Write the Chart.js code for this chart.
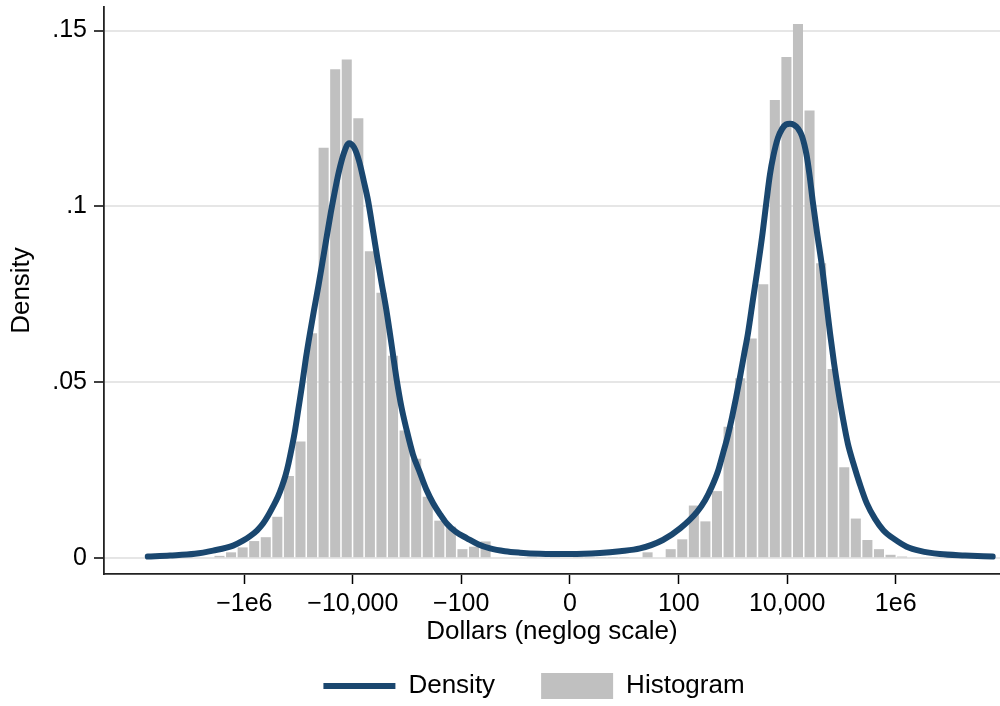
<!DOCTYPE html>
<html>
<head>
<meta charset="utf-8">
<script src="https://cdn.jsdelivr.net/npm/chart.js@4/dist/chart.umd.min.js"></script>
<style>
html, body { margin: 0; padding: 0; background: #ffffff; }
canvas { display: block; }
</style>
</head>
<body>
<canvas id="c" width="1000" height="706"></canvas>
<script>
// ---------- data (x values are in neglog units: sign(x)*ln(1+|x|)) ----------
const xTickDollars = [-1e6, -1e4, -100, 0, 100, 1e4, 1e6];
const xTickLabels  = ['\u22121e6', '\u221210,000', '\u2212100', '0', '100', '10,000', '1e6'];
const yTickValues  = [0, 0.05, 0.1, 0.15];
const yTickLabels  = ['0', '.05', '.1', '.15'];

const histBinCenters = [
  -19.285, -18.794, -18.303, -17.813, -17.322, -16.831, -16.340, -15.850, -15.359,
  -14.868, -14.377, -13.886, -13.396, -12.905, -12.414, -11.923, -11.433, -10.942,
  -10.451, -9.960, -9.470, -8.979, -8.488, -7.998, -7.507, -7.016, -6.525, -6.034,
  -5.543, -5.053, -4.562, -4.071, -3.580, -3.090, -2.599, -2.108, -1.617, -1.126,
  -0.636, -0.145, 0.346, 0.837, 1.327, 1.818, 2.309, 2.800, 3.290, 3.781, 4.272,
  4.763, 5.254, 5.744, 6.235, 6.726, 7.217, 7.707, 8.198, 8.689, 9.180, 9.671,
  10.161, 10.652, 11.143, 11.634, 12.124, 12.615, 13.106, 13.597, 14.087
];
const histDensity = [
  0.0003, 0, 0, 0, 0, 0, 0, 0, 0,
  0.0007, 0.0017, 0.0031, 0.0049, 0.0060, 0.0118, 0.0234, 0.0332, 0.0640,
  0.1167, 0.1390, 0.1418, 0.1251, 0.0873, 0.0755, 0.0576, 0.0363, 0.0283, 0.0175,
  0.0107, 0.0090, 0.0026, 0.0033, 0.0048, 0, 0, 0, 0.0004, 0,
  0.0004, 0, 0.0002, 0.0002, 0.0002, 0.0002, 0.0002, 0, 0.0017, 0, 0.0026,
  0.0054, 0.0150, 0.0105, 0.0191, 0.0374, 0.0512, 0.0625, 0.0779, 0.1303, 0.1425, 0.1519,
  0.1273, 0.0839, 0.0538, 0.0259, 0.0113, 0.0052, 0.0026, 0.0010, 0.0005
];

const kdensX = [
  -17.91, -16.97, -15.91, -15.14, -14.29, -13.87, -13.57, -13.28, -13.02, -12.81,
  -12.60, -12.39, -12.22, -12.07, -11.94, -11.79, -11.66, -11.52, -11.37, -11.20,
  -11.03, -10.86, -10.67, -10.48, -10.31, -10.14, -9.97, -9.80, -9.59, -9.37,
  -9.16, -8.95, -8.74, -8.57, -8.34, -8.17, -7.99, -7.80, -7.64, -7.35,
  -7.15, -6.93, -6.66, -6.36, -6.09, -5.80, -5.51, -5.23, -4.84, -4.37,
  -3.90, -3.39, -2.76, -2.12, -1.27, 0.00, 1.27, 2.12, 2.97, 3.94,
  4.67, 5.39, 5.73, 6.02, 6.28, 6.49, 6.70, 6.87, 7.04, 7.21,
  7.38, 7.55, 7.76, 7.97, 8.17, 8.34, 8.48, 8.63, 8.82, 8.99,
  9.16, 9.33, 9.50, 9.67, 9.84, 10.03, 10.16, 10.29, 10.48, 10.69,
  10.86, 11.03, 11.20, 11.37, 11.59, 11.79, 12.02, 12.30, 12.59, 12.94,
  13.29, 13.79, 14.28, 14.85, 15.69, 16.76, 17.93
];
const kdensY = [
  0.0005, 0.0008, 0.0013, 0.0022, 0.0036, 0.0050, 0.0063, 0.0079, 0.0099, 0.0121,
  0.0147, 0.0175, 0.0204, 0.0235, 0.0270, 0.0318, 0.0365, 0.0425, 0.0490, 0.0570,
  0.0640, 0.0705, 0.0775, 0.0850, 0.0918, 0.0985, 0.1045, 0.1100, 0.1152, 0.1180,
  0.1168, 0.1130, 0.1070, 0.1018, 0.0924, 0.0853, 0.0782, 0.0710, 0.0640, 0.0507,
  0.0430, 0.0365, 0.0295, 0.0242, 0.0195, 0.0156, 0.0125, 0.0099, 0.0075, 0.0057,
  0.0040, 0.0028, 0.0020, 0.0016, 0.0013, 0.0012, 0.0015, 0.0020, 0.0028, 0.0052,
  0.0085, 0.0132, 0.0165, 0.0204, 0.0248, 0.0298, 0.0350, 0.0400, 0.0455, 0.0515,
  0.0578, 0.0640, 0.0735, 0.0829, 0.0925, 0.1018, 0.1090, 0.1145, 0.1195, 0.1220,
  0.1233, 0.1235, 0.1232, 0.1222, 0.1200, 0.1148, 0.1090, 0.1018, 0.0925, 0.0829,
  0.0735, 0.0640, 0.0555, 0.0480, 0.0393, 0.0325, 0.0270, 0.0210, 0.0156, 0.0112,
  0.0080, 0.0053, 0.0033, 0.0021, 0.0012, 0.0008, 0.0005
];

const X_MIN = -19.767, X_MAX = 18.24;
const Y_MIN = -0.00446, Y_MAX = 0.1567;

// ---------- rendering ----------
const NAVY = '#1a476f';
const GRAY = '#c0c0c0';
const neglog = d => Math.sign(d) * Math.log(1 + Math.abs(d));

Chart.defaults.font.family = "'Liberation Sans', Arial, Helvetica, sans-serif";
Chart.defaults.font.size = 25;
Chart.defaults.color = '#000000';

const legendPlacement = {
  id: 'legendPlacement',
  afterLayout(chart) {
    const lg = chart.legend;
    if (!lg) return;
    lg.left += 34;
    lg.right += 34;
    lg.top = 627;
    lg.bottom = 706;
  }
};

new Chart(document.getElementById('c'), {
  type: 'bar',
  data: {
    datasets: [
      {
        type: 'line',
        label: 'Density',
        data: kdensX.map((x, i) => ({ x: x, y: kdensY[i] })),
        borderColor: NAVY,
        backgroundColor: NAVY,
        borderWidth: 6,
        pointRadius: 0,
        pointHoverRadius: 0,
        pointBorderWidth: 6,
        pointStyle: 'line',
        fill: false,
        cubicInterpolationMode: 'monotone',
        borderCapStyle: 'round',
        borderJoinStyle: 'round',
        order: 0
      },
      {
        type: 'bar',
        label: 'Histogram',
        data: histBinCenters.map((x, i) => ({ x: x, y: histDensity[i] })),
        backgroundColor: GRAY,
        borderWidth: 0,
        barPercentage: 0.87,
        categoryPercentage: 1.0,
        pointStyle: 'rect',
        order: 1
      }
    ]
  },
  options: {
    responsive: false,
    animation: false,
    devicePixelRatio: 1,
    layout: { padding: { top: 7, left: 0, right: 0, bottom: 0 } },
    scales: {
      x: {
        type: 'linear',
        min: X_MIN,
        max: X_MAX,
        offset: false,
        grid: {
          display: true, drawOnChartArea: false, drawTicks: true, offset: false,
          tickLength: 10, tickColor: '#000000', tickWidth: 1.5
        },
        border: { display: true, color: '#222222', width: 1.8 },
        ticks: {
          padding: 5, autoSkip: false, maxRotation: 0, minRotation: 0,
          callback: (v, i) => xTickLabels[i]
        },
        title: {
          display: true, text: 'Dollars (neglog scale)',
          font: { size: 26 },
          padding: { top: 0, bottom: 0 }
        },
        afterBuildTicks: s => { s.ticks = xTickDollars.map(d => ({ value: neglog(d) })); },
        afterFit: s => { s.height = 73; s.paddingLeft = 0; s.paddingRight = 0; }
      },
      y: {
        type: 'linear',
        min: Y_MIN,
        max: Y_MAX,
        grid: {
          color: '#e6e6e6', lineWidth: 2, drawTicks: true,
          tickLength: 10, tickColor: '#000000', tickWidth: 1.5
        },
        border: { display: true, color: '#222222', width: 1.8 },
        ticks: {
          padding: 7,
          callback: (v, i) => yTickLabels[i]
        },
        title: {
          display: true, text: 'Density',
          font: { size: 26 },
          padding: { top: 6, bottom: 0 }
        },
        afterBuildTicks: s => { s.ticks = yTickValues.map(v => ({ value: v })); },
        afterFit: s => { s.width = 104; s.paddingTop = 0; s.paddingBottom = 0; }
      }
    },
    plugins: {
      tooltip: { enabled: false },
      legend: {
        display: true,
        position: 'bottom',
        maxHeight: 59,
        labels: {
          usePointStyle: true,
          pointStyleWidth: 72,
          boxHeight: 26,
          padding: 46,
          color: '#000000',
          font: { size: 26 },
          generateLabels: (chart) => {
            const items = Chart.defaults.plugins.legend.labels.generateLabels(chart);
            items.forEach(it => {
              if (it.text === 'Density') { it.lineWidth = 6; it.lineCap = 'butt'; it.strokeStyle = NAVY; }
              else { it.lineWidth = 0; it.fillStyle = GRAY; }
            });
            return items;
          }
        }
      }
    }
  },
  plugins: [legendPlacement]
});
</script>
</body>
</html>
